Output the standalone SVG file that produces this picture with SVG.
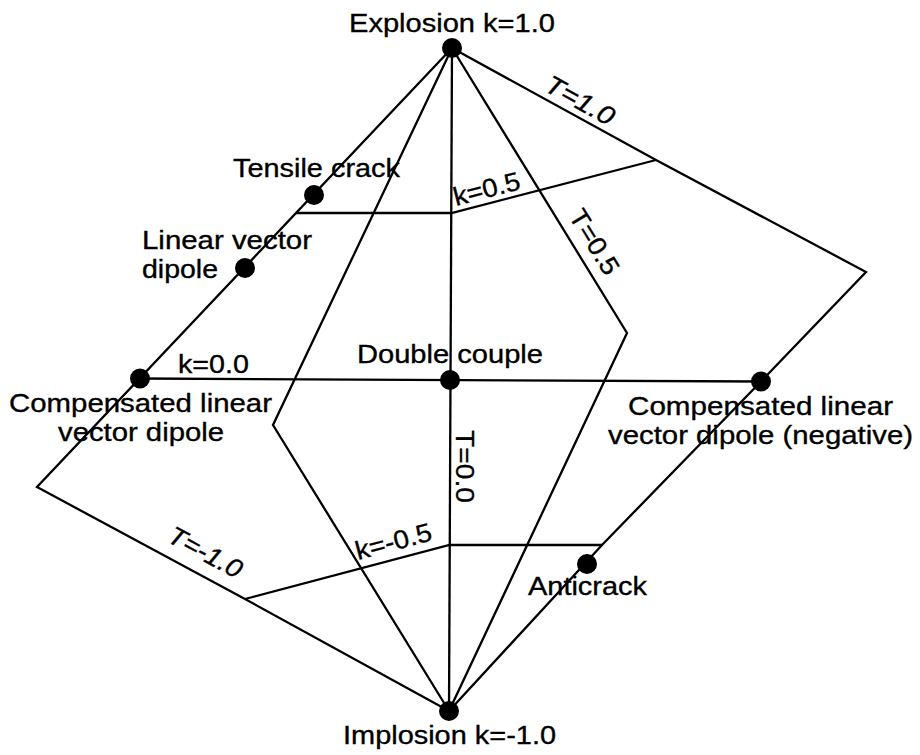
<svg xmlns="http://www.w3.org/2000/svg" width="920" height="755" viewBox="0 0 920 755">
<style>
  .ln { fill: none; stroke: #000; stroke-width: 2.3; stroke-linejoin: miter; }
  .dot { fill: #000; }
  text { font-family: "Liberation Sans", Arial, Helvetica, sans-serif; font-size: 26px; fill: #000; stroke: #000; stroke-width: 0.35; }
  .it { font-style: italic; }
  .sm { font-size: 25px; }
</style>
<rect width="920" height="755" fill="#fff"/>
<g id="connectors">
  <polyline class="ln" points="452,48 37,487 245,599 449,711"/>
  <polyline class="ln" points="452,48 656,160 866,272 761,381.5 602,545 449,711"/>
  <polyline class="ln" points="452,48 627,333 449,711"/>
  <polyline class="ln" points="452,48 273,425 449,711"/>
  <line class="ln" x1="452" y1="48" x2="449" y2="711"/>
  <polyline class="ln" points="296,213 451.5,213 656,160"/>
  <line class="ln" x1="140" y1="378.5" x2="761" y2="381.5"/>
  <polyline class="ln" points="245,599 449.5,545 602,545"/>
</g>
<g id="line-labels">
  <text class="it" transform="translate(543,90) rotate(29)" textLength="75" lengthAdjust="spacingAndGlyphs">T=1.0</text>
  <text transform="translate(568,216) rotate(58.4)" textLength="72" lengthAdjust="spacingAndGlyphs">T=0.5</text>
  <text transform="translate(456,430) rotate(90)" textLength="73" lengthAdjust="spacingAndGlyphs">T=0.0</text>
  <text class="it" transform="translate(166,541) rotate(28.4)" textLength="80" lengthAdjust="spacingAndGlyphs">T=-1.0</text>
  <text transform="translate(456,206) rotate(-14.6)" textLength="68" lengthAdjust="spacingAndGlyphs">k=0.5</text>
  <text x="178" y="373" textLength="71" lengthAdjust="spacingAndGlyphs">k=0.0</text>
  <text transform="translate(358,560) rotate(-14.8)" textLength="78" lengthAdjust="spacingAndGlyphs">k=-0.5</text>
</g>
<g id="explosion">
  <circle class="dot" cx="452" cy="48" r="10"/>
  <text x="349" y="32" textLength="206" lengthAdjust="spacingAndGlyphs">Explosion k=1.0</text>
</g>
<g id="tensile-crack">
  <circle class="dot" cx="314" cy="195" r="10"/>
  <text x="233" y="177" textLength="167" lengthAdjust="spacingAndGlyphs">Tensile crack</text>
</g>
<g id="linear-vector-dipole">
  <circle class="dot" cx="245" cy="268" r="10"/>
  <text class="sm" x="142" y="249" textLength="170" lengthAdjust="spacingAndGlyphs">Linear vector</text>
  <text class="sm" x="142" y="278" textLength="76" lengthAdjust="spacingAndGlyphs">dipole</text>
</g>
<g id="clvd">
  <circle class="dot" cx="140" cy="378.5" r="10"/>
  <text x="9" y="412" textLength="263" lengthAdjust="spacingAndGlyphs">Compensated linear</text>
  <text x="58" y="441" textLength="166" lengthAdjust="spacingAndGlyphs">vector dipole</text>
</g>
<g id="double-couple">
  <circle class="dot" cx="450" cy="380" r="10"/>
  <text x="357" y="363" textLength="186" lengthAdjust="spacingAndGlyphs">Double couple</text>
</g>
<g id="clvd-negative">
  <circle class="dot" cx="761" cy="381.5" r="10"/>
  <text x="628" y="415" textLength="265" lengthAdjust="spacingAndGlyphs">Compensated linear</text>
  <text x="608" y="444" textLength="305" lengthAdjust="spacingAndGlyphs">vector dipole (negative)</text>
</g>
<g id="anticrack">
  <circle class="dot" cx="587" cy="564" r="10"/>
  <text x="528" y="595" textLength="119" lengthAdjust="spacingAndGlyphs">Anticrack</text>
</g>
<g id="implosion">
  <circle class="dot" cx="449" cy="711" r="10"/>
  <text x="343" y="744" textLength="213" lengthAdjust="spacingAndGlyphs">Implosion k=-1.0</text>
</g>
</svg>
